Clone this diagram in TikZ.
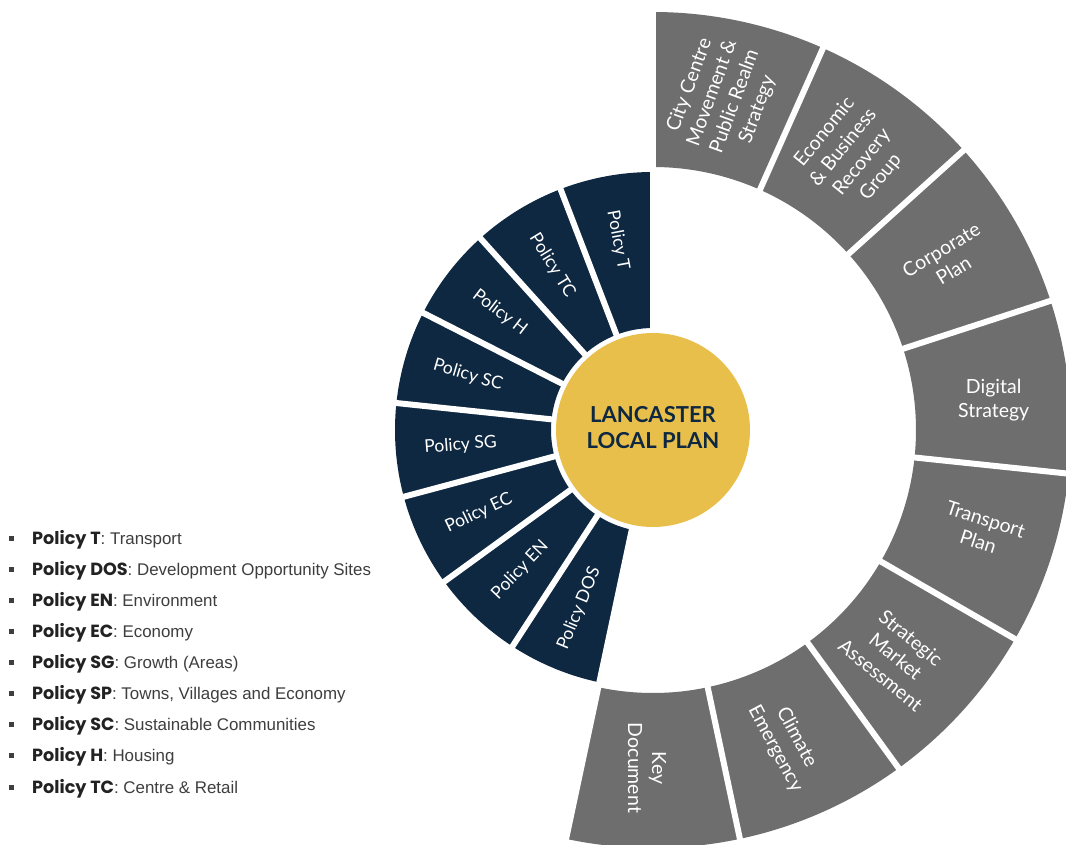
\documentclass[tikz,border=0pt]{standalone}
\usepackage{fontspec}
\setmainfont{Lato}
\newfontfamily\legendsans{Liberation Sans}
\newfontfamily\legendhead{Poppins}
\definecolor{navy}{HTML}{0E2841}
\definecolor{ringgray}{HTML}{6E6E6E}
\definecolor{plangold}{HTML}{E9BF4B}
\definecolor{legtext}{HTML}{3E3E3E}
\definecolor{leghead}{HTML}{222222}
\newcommand\polhead[1]{{\legendhead\bfseries\fontsize{17.6}{20}\selectfont\color{leghead}#1}}

\begin{document}
\begin{tikzpicture}[x=1pt,y=1pt,
  policytxt/.style={text=white, font=\fontsize{17.5}{20}\selectfont, align=center, inner sep=0pt},
  doctxt/.style={text=white, font=\fontsize{19.5}{24}\selectfont, align=center, inner sep=0pt},
  sep/.style={white, line width=6pt},
  legitem/.style={anchor=base west, inner sep=0pt, font=\legendsans\fontsize{16.9}{19}\selectfont, text=legtext},
  bullet/.style={fill=legtext, minimum size=5pt, inner sep=0pt}
]
% page frame, centre of the rings at the origin
\fill[white] (-653,-415) rectangle (413,430);
\useasboundingbox (-653,-415) rectangle (413,430);

% inner ring: policies, 21 degrees each, from 90 to 258
\foreach \i/\name in {0/Policy T,1/Policy TC,2/Policy H,3/Policy SC,4/Policy SG,5/Policy EC,6/Policy EN,7/Policy DOS}{
  \pgfmathsetmacro\a{90+21*\i}
  \pgfmathsetmacro\b{\a+21}
  \pgfmathsetmacro\m{\a+10.5}
  \pgfmathsetmacro\r{\m-180}
  \fill[navy] (\a:102pt) arc[start angle=\a, end angle=\b, radius=102pt]
    -- (\b:258pt) arc[start angle=\b, end angle=\a, radius=258pt] -- cycle;
  \node[policytxt, rotate=\r] (pol\i) at (\m:193pt) {\name};
}

% outer ring: documents, 24 degrees each, from 90 down to -102
\foreach \i in {0,...,7}{
  \pgfmathsetmacro\a{90-24*\i}
  \pgfmathsetmacro\b{\a-24}
  \fill[ringgray] (\a:263pt) arc[start angle=\a, end angle=\b, radius=263pt]
    -- (\b:418pt) arc[start angle=\b, end angle=\a, radius=418pt] -- cycle;
}

% white gaps between the sectors
\foreach \t in {90,111,...,258} \draw[sep] (\t:98pt) -- (\t:262pt);
\foreach \t in {-102,-78,...,90} \draw[sep] (\t:259pt) -- (\t:422pt);

% document labels
\node[doctxt, rotate=70]  (doc0) at (78:340pt)  {City Centre\\Movement \&\\Public Realm\\Strategy};
\node[doctxt, rotate=51]  (doc1) at (54:340pt)  {Economic\\\& Business\\Recovery\\Group};
\node[doctxt, rotate=31]  (doc2) at (30:340pt)  {Corporate\\Plan};
\node[doctxt, rotate=0]   (doc3) at (5:342pt)   {Digital\\Strategy};
\node[doctxt, rotate=-18] (doc4) at (-17:344pt) {Transport\\Plan};
\node[doctxt, rotate=-39] (doc5) at (-43:332pt) {Strategic\\Market\\Assessment};
\node[doctxt, rotate=-62] (doc6) at (-67:340pt) {Climate\\Emergency};
\node[doctxt, rotate=-90] (doc7) at (-91:338pt) {Key\\Document};

% centre disc
\fill[plangold] (0,0) circle (97pt);
\node[text=navy, font=\bfseries\fontsize{22}{26}\selectfont, align=center, inner sep=0pt] (core) at (0,2) {LANCASTER\\LOCAL PLAN};

% legend
\foreach \k/\hd/\txt in {0/Policy T/Transport,
                         1/Policy DOS/Development Opportunity Sites,
                         2/Policy EN/Environment,
                         3/Policy EC/Economy,
                         4/Policy SG/Growth (Areas),
                         5/Policy SP/{Towns, Villages and Economy},
                         6/Policy SC/Sustainable Communities,
                         7/Policy H/Housing,
                         8/Policy TC/Centre \& Retail}{
  \node[bullet] (dot\k) at (-641,-109-31*\k) {};
  \node[legitem] (leg\k) at (-621,-115-31*\k) {\polhead{\hd}: \txt};
}
\end{tikzpicture}
\end{document}
